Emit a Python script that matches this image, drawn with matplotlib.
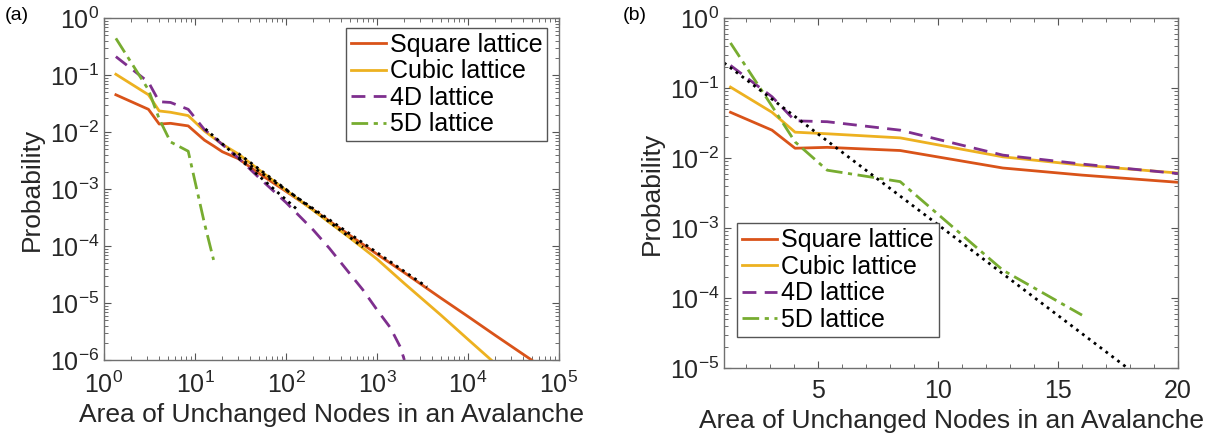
import matplotlib
matplotlib.use("Agg")
import matplotlib.pyplot as plt
from matplotlib.ticker import LogLocator, MultipleLocator, NullFormatter
import numpy as np

plt.rcParams['font.family'] = ['Liberation Sans', 'DejaVu Sans']
plt.rcParams['mathtext.fontset'] = 'custom'
plt.rcParams['mathtext.rm'] = 'Liberation Sans'
plt.rcParams['mathtext.it'] = 'Liberation Sans:italic'

# avalanche area (bin centres) and probabilities
x_sq = [1.35, 3.08, 4.04, 5.38, 8.42, 12.7, 16, 20, 30, 50, 100, 200, 500,
        1000, 2000, 5000, 1e4, 2e4, 5e4]
p_sq = [0.045, 0.025, 0.0138, 0.0142, 0.0128, 0.0072, 0.0057, 0.0045, 0.0034,
        0.0019, 9.1e-4, 4.3e-4, 1.55e-4, 7.2e-5, 3.4e-5, 1.23e-5, 5.8e-6,
        2.7e-6, 1.0e-6]

x_cu = [1.35, 3.08, 4.04, 5.38, 8.42, 12.7, 16, 20, 30, 50, 100, 200, 500,
        1000, 2000, 5000, 1e4, 1.8e4]
p_cu = [0.103, 0.045, 0.0234, 0.0222, 0.0194, 0.0104, 0.0079, 0.0061, 0.0041,
        0.0022, 9.5e-4, 4.2e-4, 1.4e-4, 5.9e-5, 2.2e-5, 6.2e-6, 2.3e-6, 1.0e-6]

x_4d = [1.35, 3.08, 4.04, 5.38, 8.42, 12.7, 16, 20, 30, 50, 100, 200, 300,
        500, 700, 1000, 1400, 1800, 2000]
p_4d = [0.21, 0.075, 0.034, 0.033, 0.025, 0.011, 0.0082, 0.0060, 0.0035,
        0.0016, 5.8e-4, 1.9e-4, 9.1e-5, 3.3e-5, 1.7e-5, 7.6e-6, 3.7e-6,
        1.7e-6, 1.0e-6]

x_5d = [1.35, 3.08, 4.04, 5.38, 8.42, 12.7, 16]
p_5d = [0.44, 0.055, 0.017, 0.0067, 0.0046, 2.5e-4, 5.7e-5]

# fitted lines (black dotted)
# power laws in (a): prefactor, exponent, x range
fit_4d = (0.41, -1.40, 13, 130)
fit_cu = (0.248, -1.20, 30, 700)
fit_sq = (0.153, -1.10, 30, 3550)
# exponential in (b): prefactor, rate, x range
fit_5d = (0.436, 0.597, 1.08, 20)

labels = ['Square lattice', 'Cubic lattice', '4D lattice', '5D lattice']
colors = ['#D95319', '#EDB120', '#7E2F8E', '#77AC30']
styles = ['-', '-', (0, (5, 3)), (0, (6, 2, 1.5, 2))]
series = [(x_sq, p_sq), (x_cu, p_cu), (x_4d, p_4d), (x_5d, p_5d)]

fig = plt.figure(figsize=(12.28, 4.34), dpi=100)
ax1 = fig.add_axes([0.0847, 0.1705, 0.3705, 0.788])
ax2 = fig.add_axes([0.5896, 0.152, 0.3697, 0.8065])

txtc = '#262626'
for ax in (ax1, ax2):
    for (xs, ps), lab, c, ls in zip(series, labels, colors, styles):
        ax.plot(xs, ps, color=c, ls=ls, lw=2, label=lab)
    ax.set_yscale('log')
    ax.set_ylabel('Probability', fontsize=19, color=txtc, labelpad=4)
    ax.set_xlabel('Area of Unchanged Nodes in an Avalanche', fontsize=19,
                  color=txtc, labelpad=4)
    ax.tick_params(which='both', direction='in', top=True, right=True,
                   labelsize=18, colors='#555555', labelcolor=txtc)
    ax.tick_params(axis='x', which='major', pad=8)
    ax.tick_params(which='major', length=5)
    ax.tick_params(which='minor', length=3)
    for s in ax.spines.values():
        s.set_color('#707070')
        s.set_linewidth(1)
    ax.yaxis.set_minor_locator(LogLocator(base=10, subs=np.arange(2, 10), numticks=20))
    ax.yaxis.set_minor_formatter(NullFormatter())

for a0, k, xa, xb in (fit_4d, fit_cu, fit_sq):
    xf = np.logspace(np.log10(xa), np.log10(xb), 50)
    ax1.plot(xf, a0 * xf ** k, color='black', ls=':', lw=2)

xf = np.linspace(fit_5d[2], fit_5d[3], 100)
ax2.plot(xf, fit_5d[0] * np.exp(-fit_5d[1] * xf), color='black', ls=':', lw=2)

ax1.set_xscale('log')
ax1.set_xlim(1, 1e5)
ax1.set_ylim(1e-6, 1)
ax1.xaxis.set_major_locator(LogLocator(base=10, numticks=10))
ax1.xaxis.set_minor_locator(LogLocator(base=10, subs=np.arange(2, 10), numticks=20))
ax1.xaxis.set_minor_formatter(NullFormatter())
ax1.yaxis.set_major_locator(LogLocator(base=10, numticks=10))

ax2.set_xlim(1.08, 20)
ax2.set_ylim(1e-5, 1)
ax2.xaxis.set_major_locator(MultipleLocator(5))
ax2.xaxis.set_minor_locator(MultipleLocator(1))
ax2.yaxis.set_major_locator(LogLocator(base=10, numticks=10))

leg_kw = dict(fontsize=18, frameon=True, fancybox=False, framealpha=1,
              edgecolor='#555555', handlelength=1.4, handletextpad=0.15,
              labelspacing=0.1, borderpad=0.2, borderaxespad=0)
l1 = ax1.legend(loc='upper right', bbox_to_anchor=(0.974, 0.971), **leg_kw)
l2 = ax2.legend(loc='lower left', bbox_to_anchor=(0.029, 0.089), **leg_kw)
for l in (l1, l2):
    l.get_frame().set_linewidth(1)

fig.text(0.004, 0.965, '(a)', fontsize=14, va='center', ha='left')
fig.text(0.507, 0.965, '(b)', fontsize=14, va='center', ha='left')

fig.savefig('out.png', dpi=100)
